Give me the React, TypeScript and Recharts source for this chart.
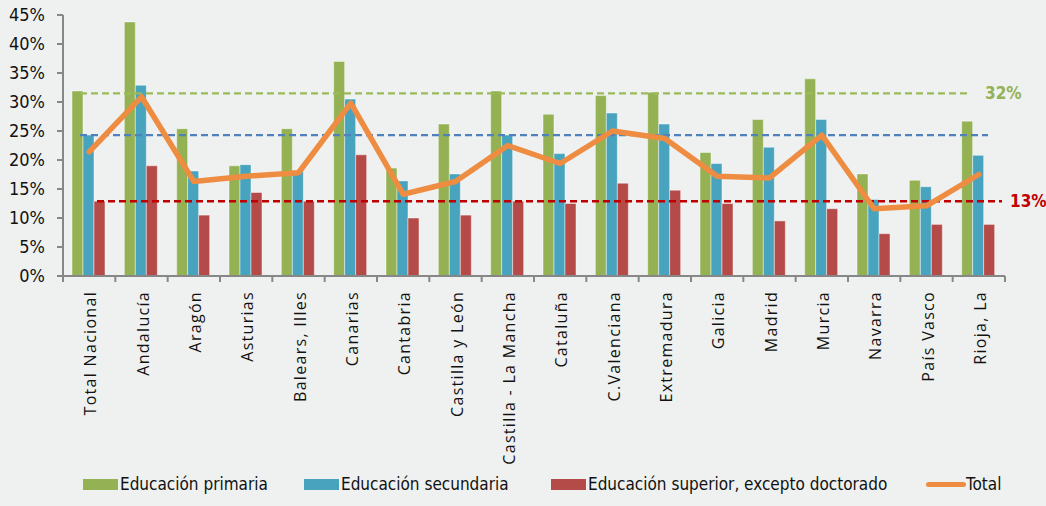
import type {ReactElement} from 'react';
import {
  ComposedChart,
  Bar,
  Line,
  XAxis,
  YAxis,
  ReferenceLine,
} from 'recharts';

const regions = [
  'Total Nacional',
  'Andalucía',
  'Aragón',
  'Asturias',
  'Balears, Illes',
  'Canarias',
  'Cantabria',
  'Castilla y León',
  'Castilla - La Mancha',
  'Cataluña',
  'C.Valenciana',
  'Extremadura',
  'Galicia',
  'Madrid',
  'Murcia',
  'Navarra',
  'País Vasco',
  'Rioja, La',
];

const primaria = [31.9, 43.8, 25.4, 19.0, 25.4, 37.0, 18.6, 26.2, 31.9, 27.9, 31.1, 31.7, 21.3, 27.0, 34.0, 17.6, 16.5, 26.7];
const secundaria = [24.3, 32.9, 18.1, 19.2, 18.0, 30.5, 16.4, 17.6, 24.3, 21.1, 28.1, 26.2, 19.4, 22.2, 27.0, 13.2, 15.4, 20.8];
const superior = [12.9, 19.0, 10.5, 14.4, 12.9, 20.9, 10.0, 10.5, 12.9, 12.5, 16.0, 14.8, 12.5, 9.5, 11.6, 7.3, 8.9, 8.9];
const total = [21.4, 30.9, 16.3, 17.2, 17.8, 29.8, 14.1, 16.3, 22.5, 19.4, 25.0, 23.7, 17.2, 16.9, 24.3, 11.6, 12.1, 17.5];

const yTicks = [0, 5, 10, 15, 20, 25, 30, 35, 40, 45];

// averages drawn as dashed lines
const avgPrimaria = 31.5;
const avgSecundaria = 24.3;
const avgSuperior = 12.9;

const series = [
  {key: 'primaria', name: 'Educación primaria', color: '#94B254'},
  {key: 'secundaria', name: 'Educación secundaria', color: '#48A4BE'},
  {key: 'superior', name: 'Educación superior, excepto doctorado', color: '#B54B49'},
];
const totalColor = '#EE8D42';

const data = regions.map((region, i) => ({
  region,
  primaria: primaria[i],
  secundaria: secundaria[i],
  superior: superior[i],
  total: total[i],
}));

const WIDTH = 1046;
const HEIGHT = 506;
const MARGIN = {top: 15, right: 41, left: 0, bottom: 0};
const Y_AXIS_W = 63;
const PLOT_W = WIDTH - MARGIN.right - Y_AXIS_W;
const BAND = PLOT_W / regions.length;

const axisGray = '#878787';
const narrowFont = "'Liberation Sans Narrow', 'DejaVu Sans Condensed', sans-serif";

function XTick(props: any) {
  const {x, y, payload, index} = props;
  return (
    <g>
      <line x1={x - BAND / 2} y1={y} x2={x - BAND / 2} y2={y + 6} stroke={axisGray} strokeWidth={2} />
      {index === regions.length - 1 && (
        <line x1={x + BAND / 2} y1={y} x2={x + BAND / 2} y2={y + 6} stroke={axisGray} strokeWidth={2} />
      )}
      <text
        x={x + 1}
        y={y + 15}
        transform={`rotate(-90, ${x + 1}, ${y + 15})`}
        textAnchor="end"
        dominantBaseline="central"
        fontFamily="'Open Sans', sans-serif"
        fontSize={16}
        letterSpacing={1.3}
        fill="#111"
      >
        {payload.value}
      </text>
    </g>
  );
}

// dashed line trimmed at the ends, like the source
const trimmedLine = (color: string, width: number, cutLeft: number, cutRight: number) =>
  (props: any) => (
    <line
      x1={props.x1 + cutLeft}
      y1={props.y1}
      x2={props.x2 - cutRight}
      y2={props.y2}
      stroke={color}
      strokeWidth={width}
      strokeDasharray="7 4"
    />
  );

const endLabel = (text: string, color: string, dx: number) => (props: any) => {
  const {viewBox} = props;
  return (
    <text
      x={viewBox.x + viewBox.width + dx}
      y={viewBox.y}
      dominantBaseline="central"
      fontFamily={narrowFont}
      fontWeight="bold"
      fontSize={17}
      fill={color}
    >
      {text}
    </text>
  );
};

export default function App(): ReactElement {
  return (
    <div
      style={{
        position: 'absolute',
        top: 0,
        left: 0,
        width: WIDTH,
        height: HEIGHT,
        background: '#EFF1F0',
      }}
    >
      <ComposedChart
        width={WIDTH}
        height={HEIGHT}
        data={data}
        margin={MARGIN}
        barCategoryGap={9}
        barGap={0}
      >
        <XAxis
          dataKey="region"
          height={HEIGHT - 276}
          interval={0}
          tickSize={0}
          tickMargin={0}
          tickLine={false}
          axisLine={{stroke: axisGray, strokeWidth: 2}}
          tick={<XTick />}
        />
        <YAxis
          width={Y_AXIS_W}
          domain={[0, 45]}
          ticks={yTicks}
          interval={0}
          tickSize={6}
          tickMargin={12}
          tickFormatter={(v: number) => `${v}%`}
          axisLine={{stroke: axisGray, strokeWidth: 2}}
          tickLine={{stroke: axisGray, strokeWidth: 2}}
          tick={{fill: '#111', fontSize: 18, fontFamily: narrowFont}}
        />
        {series.map((s) => (
          <Bar
            key={s.key}
            dataKey={s.key}
            name={s.name}
            fill={s.color}
            stroke="#ffffff"
            strokeOpacity={0.45}
            strokeWidth={1}
            isAnimationActive={false}
          />
        ))}
        <ReferenceLine
          y={avgPrimaria}
          shape={trimmedLine('#9BBB59', 2.2, 17, 36)}
          label={endLabel('32%', '#94B254', -20)}
        />
        <ReferenceLine y={avgSecundaria} shape={trimmedLine('#4F81BD', 2.2, 17, 17)} />
        <ReferenceLine
          y={avgSuperior}
          shape={trimmedLine('#C00000', 2.5, 34, 3)}
          label={endLabel('13%', '#C00000', 5)}
        />
        <Line
          dataKey="total"
          name="Total"
          stroke={totalColor}
          strokeWidth={5.5}
          strokeLinejoin="round"
          strokeLinecap="round"
          dot={false}
          activeDot={false}
          isAnimationActive={false}
        />
      </ComposedChart>
      <div
        style={{
          position: 'absolute',
          top: 484,
          left: 0,
          width: WIDTH,
          display: 'flex',
          alignItems: 'center',
          fontFamily: narrowFont,
          fontSize: 17,
          color: '#111',
        }}
      >
        {series.map((s, i) => (
          <div
            key={s.key}
            style={{
              position: 'absolute',
              left: [83, 304, 551][i],
              display: 'flex',
              alignItems: 'center',
            }}
          >
            <span style={{width: 35, height: 11, background: s.color, marginRight: 2}} />
            <span>{s.name}</span>
          </div>
        ))}
        <div style={{position: 'absolute', left: 926, display: 'flex', alignItems: 'center'}}>
          <span style={{width: 40, height: 5, background: totalColor, borderRadius: 3}} />
          <span>Total</span>
        </div>
      </div>
    </div>
  );
}
